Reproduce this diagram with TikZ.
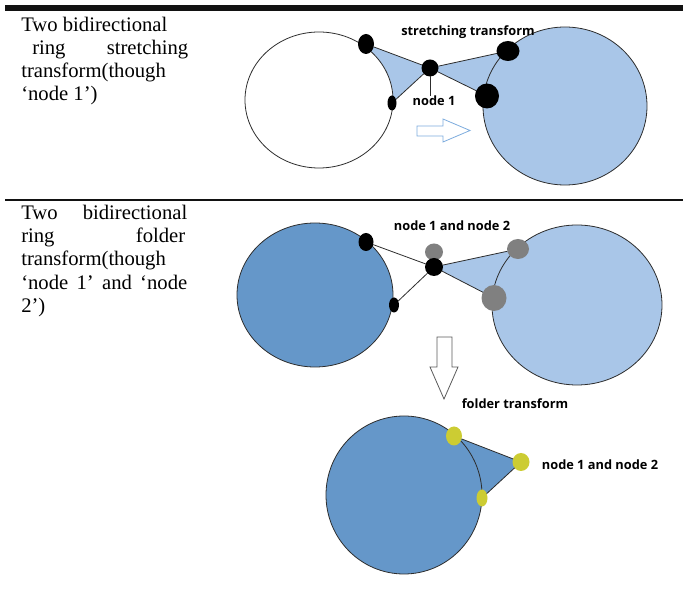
\documentclass[tikz,border=0pt]{standalone}
\usepackage{fontspec}
\setmainfont{Liberation Serif}
\newfontfamily\labelfont{Open Sans}
\usetikzlibrary{shapes.geometric}
\definecolor{lightblue}{RGB}{169,198,232}
\definecolor{darkblue}{RGB}{101,151,201}
\definecolor{dotgray}{RGB}{128,128,128}
\definecolor{dotyellow}{RGB}{204,204,51}
\definecolor{arrowblue}{RGB}{125,172,222}
\definecolor{outline}{RGB}{45,45,45}
\definecolor{arrowgray}{RGB}{90,90,90}
\begin{document}
\begin{tikzpicture}[x=0.75pt,y=-0.75pt,
  ring/.style={draw=outline, line width=0.6pt},
  dotnode/.style={ellipse, inner sep=0pt, outer sep=0pt, fill=#1, draw=none},
  edge/.style={draw=outline, line width=0.6pt},
  lbl/.style={font=\labelfont\bfseries\fontsize{9.6}{11}\selectfont, inner sep=0pt},
  desc/.style={font=\fontsize{15.5}{18}\selectfont, inner sep=0pt, anchor=base west},
  hollow/.style={line width=0.6pt, fill=white}]
\useasboundingbox (0,0) rectangle (683,598);
% rules
\fill[black!93] (5,5) rectangle (683,11);
\draw[line width=1.5pt, black!93] (5,200) -- (683,200);

% ---------- descriptions ----------
\node[desc] (t1) at (21,32) {Two bidirectional};
\node[desc] (t2) at (32,55) {\hbox to 117pt{ring\hfill stretching}};
\node[desc] (t3) at (21,78) {transform(though};
\node[desc] (t4) at (21,101) {‘node 1’)};

\node[desc] (b1) at (21,220) {\hbox to 124.5pt{Two\hfill bidirectional}};
\node[desc] (b2) at (21,243) {\hbox to 123pt{ring\hfill folder}};
\node[desc] (b3) at (21,266) {transform(though};
\node[desc] (b4) at (21,290) {\hbox to 124.5pt{‘node\hfill 1’\hfill and\hfill ‘node}};
\node[desc] (b5) at (21,313) {2’)};

% ---------- top: stretching transform ----------
\coordinate (pA1) at (366,44);
\coordinate (pN1) at (430,68);
\coordinate (pB1) at (392,103);
\coordinate (pC1) at (508,51);
\coordinate (pD1) at (487,96);
\fill[lightblue] (pA1) -- (pN1) -- (pB1) -- cycle;
\fill[lightblue] (pN1) -- (pC1) -- (pD1) -- cycle;
\draw[ring, fill=white] (319,100) ellipse [x radius=55.5pt, y radius=51pt];
\draw[ring, fill=lightblue] (565,106) ellipse [x radius=61.5pt, y radius=59.25pt];
\node[dotnode=black, minimum width=12pt, minimum height=15pt] (A1) at (pA1) {};
\node[dotnode=black, minimum width=6.75pt, minimum height=11.25pt] (B1) at (pB1) {};
\node[dotnode=black, minimum width=17.25pt, minimum height=15pt] (C1) at (pC1) {};
\node[dotnode=black, minimum width=18pt, minimum height=18.75pt] (D1) at (pD1) {};
\node[dotnode=black, minimum width=12.75pt, minimum height=12.75pt] (N1) at (pN1) {};
\draw[edge] (A1) -- (N1) -- (B1);
\draw[edge] (C1) -- (N1) -- (D1);
\node[lbl] (n1lbl) at (434,101) {node 1};
\node[lbl] (stlbl) at (468,32) {stretching transform};
\draw[edge] (N1) -- (N1 |- n1lbl.north);
\draw[hollow, draw=arrowblue] (417,126) -- (443,126) -- (443,119) -- (470,130.5)
  -- (443,142) -- (443,136) -- (417,136) -- cycle;

% ---------- middle: before folding ----------
\coordinate (pA2) at (366,242);
\coordinate (pB2) at (394,305);
\coordinate (pG2) at (434,252);
\coordinate (pN2) at (434,267);
\coordinate (pC2) at (518,249);
\coordinate (pD2) at (494,298);
\fill[lightblue] (pN2) -- (pC2) -- (pD2) -- cycle;
\draw[ring, fill=darkblue] (315,295) ellipse [x radius=58.5pt, y radius=54pt];
\draw[ring, fill=lightblue] (577,305) ellipse [x radius=63.75pt, y radius=60pt];
\node[dotnode=black, minimum width=11.25pt, minimum height=13.5pt] (A2) at (pA2) {};
\node[dotnode=black, minimum width=7.5pt, minimum height=11.25pt] (B2) at (pB2) {};
\node[dotnode=dotgray, minimum width=13.5pt, minimum height=12.75pt] (G2) at (pG2) {};
\node[dotnode=black, minimum width=13.5pt, minimum height=13.5pt] (N2) at (pN2) {};
\node[dotnode=dotgray, minimum width=16.5pt, minimum height=15pt] (C2) at (pC2) {};
\node[dotnode=dotgray, minimum width=18.75pt, minimum height=19.5pt] (D2) at (pD2) {};
\draw[edge] (A2) -- (N2) -- (B2);
\draw[edge] (C2) -- (N2) -- (D2);
\node[lbl] (n12lbl) at (452,226) {node 1 and node 2};
\draw[hollow, draw=arrowgray] (437,337) -- (452,337) -- (452,367) -- (458,367)
  -- (444,399) -- (430,367) -- (437,367) -- cycle;

% ---------- bottom: after folding ----------
\coordinate (pY1) at (454,436);
\coordinate (pY2) at (521,462);
\coordinate (pY3) at (482,498);
\fill[darkblue] (pY1) -- (pY2) -- (pY3) -- cycle;
\draw[ring, fill=darkblue] (404,495) ellipse [x radius=58.5pt, y radius=59.25pt];
\node[dotnode=dotyellow, minimum width=12pt, minimum height=14.25pt] (Y1) at (pY1) {};
\node[dotnode=dotyellow, minimum width=12.75pt, minimum height=13.5pt] (Y2) at (pY2) {};
\node[dotnode=dotyellow, minimum width=8.25pt, minimum height=12.75pt] (Y3) at (pY3) {};
\draw[edge] (Y1) -- (Y2) -- (Y3);
\node[lbl] (ftlbl) at (515,404) {folder transform};
\node[lbl] (n12lblb) at (600,465) {node 1 and node 2};
\end{tikzpicture}
\end{document}
